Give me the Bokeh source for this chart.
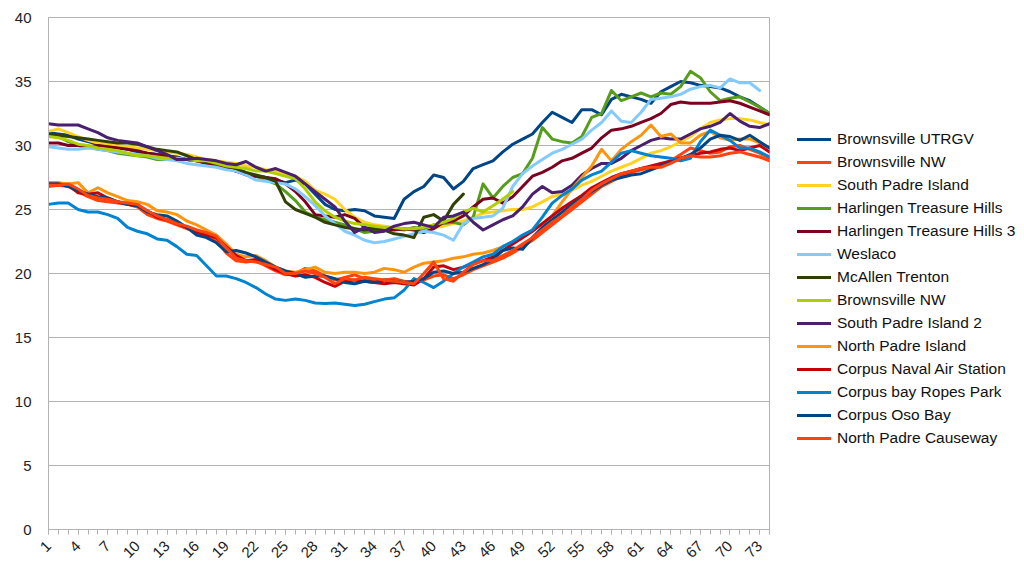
import math
import numpy as np
from bokeh.plotting import figure
from bokeh.models import Range1d, FixedTicker, Legend, LegendItem
from bokeh.embed import file_html
from bokeh.resources import INLINE

days = list(range(1, 75))
x_ticks = list(range(1, 74, 3))
y_ticks = [0, 5, 10, 15, 20, 25, 30, 35, 40]

names = ["Brownsville UTRGV", "Brownsville NW", "South Padre Island", "Harlingen Treasure Hills",
         "Harlingen Treasure Hills 3", "Weslaco", "McAllen Trenton", "Brownsville NW",
         "South Padre Island 2", "North Padre Island", "Corpus Naval Air Station",
         "Corpus bay Ropes Park", "Corpus Oso Bay", "North Padre Causeway"]

brownsville_utrgv = [31.0, 30.9, 30.8, 30.5, 30.3, 30.1, 30.0, 29.9, 29.7, 29.5, 29.4, 29.3, 29.2, 29.1, 28.9,
                     28.8, 28.6, 28.5, 28.3, 28.0, 27.8, 27.6, 27.5, 27.3, 27.1, 27.3, 27.0, 26.2, 25.4, 25.0,
                     24.9, 25.0, 24.9, 24.5, 24.4, 24.3, 25.8, 26.4, 26.8, 27.7, 27.5, 26.6, 27.2, 28.2, 28.5,
                     28.8, 29.5, 30.1, 30.5, 30.9, 31.8, 32.6, 32.2, 31.8, 32.8, 32.8, 32.4, 33.6, 34.0, 33.8,
                     33.6, 33.3, 34.2, 34.6, 35.0, 34.9, 34.7, 34.6, 34.5, 34.2, 33.8, 33.5, 33.0, 32.5]
brownsville_nw = [26.8, 26.9, 26.8, 26.4, 26.0, 25.7, 25.6, 25.5, 25.4, 25.2, 24.6, 24.3, 24.1, 23.8, 23.5,
                  23.3, 23.0, 22.6, 21.6, 21.0, 20.9, 21.0, 20.6, 20.2, 19.9, 20.0, 20.4, 20.2, 19.8, 19.5,
                  19.7, 19.9, 19.6, 19.4, 19.5, 19.6, 19.4, 19.3, 19.5, 19.8, 19.9, 19.6, 19.9, 20.3, 20.6,
                  20.9, 21.2, 21.6, 22.1, 22.6, 23.2, 23.8, 24.4, 25.0, 25.6, 26.2, 26.8, 27.2, 27.6, 27.9,
                  28.1, 28.3, 28.5, 28.8, 29.3, 29.8, 29.6, 29.4, 29.5, 29.9, 30.0, 29.7, 29.4, 29.0]
south_padre = [31.1, 31.3, 31.0, 30.7, 30.4, 30.2, 30.1, 30.0, 29.9, 29.8, 29.7, 29.6, 29.5, 29.4, 29.3,
               29.1, 28.9, 28.8, 28.7, 28.6, 28.4, 28.3, 28.1, 28.0, 27.8, 27.6, 27.2, 26.5, 26.2, 25.8,
               25.0, 24.4, 24.0, 23.8, 23.7, 23.6, 23.5, 23.4, 23.5, 23.6, 23.7, 23.9, 24.1, 24.4, 24.7,
               24.8, 24.9, 25.0, 25.0, 25.2, 25.6, 26.0, 26.2, 26.5, 26.9, 27.2, 27.6, 28.0, 28.3, 28.6,
               29.0, 29.4, 29.6, 29.9, 30.3, 30.7, 31.3, 31.8, 32.0, 32.1, 32.1, 32.0, 31.8, 31.6]
harlingen = [30.8, 30.7, 30.3, 30.0, 29.9, 29.7, 29.6, 29.4, 29.3, 29.2, 29.1, 28.9, 28.9, 29.0, 28.9,
             28.8, 28.7, 28.6, 28.3, 28.0, 27.8, 27.6, 27.3, 27.0, 26.4, 25.7, 24.8, 24.4, 24.2, 24.0,
             23.8, 23.5, 23.2, 23.3, 23.4, 23.5, 23.4, 23.6, 23.5, 23.8, 23.9, 24.0, 23.8, 24.4, 27.0,
             25.9, 26.8, 27.5, 27.8, 29.0, 31.4, 30.5, 30.3, 30.2, 30.7, 32.2, 32.5, 34.3, 33.5, 33.8,
             34.1, 33.8, 34.1, 34.0, 34.6, 35.8, 35.3, 34.2, 33.5, 33.7, 33.8, 33.4, 33.0, 32.5]
harlingen_3 = [30.2, 30.2, 30.0, 30.0, 29.9, 30.0, 29.9, 29.8, 29.7, 29.6, 29.4, 29.3, 29.2, 29.0, 28.9,
               28.8, 28.6, 28.4, 28.2, 28.0, 27.7, 27.6, 27.5, 27.4, 27.0, 26.4, 25.6, 24.6, 24.5, 24.4,
               24.6, 24.3, 23.6, 23.5, 23.5, 23.4, 23.5, 23.4, 23.2, 23.5, 24.0, 24.1, 24.5, 25.2, 25.8,
               25.9, 25.5, 26.0, 26.8, 27.6, 27.9, 28.3, 28.8, 29.0, 29.4, 29.8, 30.6, 31.2, 31.3, 31.5,
               31.8, 32.1, 32.5, 33.2, 33.4, 33.3, 33.3, 33.3, 33.4, 33.5, 33.3, 33.0, 32.7, 32.4]
weslaco = [29.9, 29.8, 29.7, 29.7, 29.8, 29.7, 29.6, 29.5, 29.4, 29.3, 29.2, 29.0, 28.9, 28.8, 28.6,
           28.5, 28.4, 28.3, 28.1, 28.0, 27.7, 27.3, 27.2, 27.1, 27.0, 26.6, 26.0, 25.3, 24.5, 23.9,
           23.3, 23.0, 22.6, 22.4, 22.5, 22.7, 22.9, 23.1, 23.3, 23.2, 23.0, 22.6, 23.9, 24.3, 24.4,
           24.5, 25.1, 26.8, 27.8, 28.4, 28.9, 29.4, 29.7, 30.1, 30.5, 31.2, 31.8, 32.7, 31.9, 31.8,
           32.6, 33.6, 33.7, 33.8, 34.0, 34.4, 34.6, 34.7, 34.5, 35.2, 34.9, 34.9, 34.3]
mcallen = [30.9, 30.8, 30.7, 30.6, 30.5, 30.4, 30.3, 30.2, 30.2, 30.1, 29.9, 29.7, 29.6, 29.5, 29.2,
           28.9, 28.7, 28.6, 28.4, 28.2, 27.9, 27.7, 27.5, 27.2, 25.6, 25.0, 24.7, 24.4, 24.0, 23.8,
           23.6, 23.5, 23.4, 23.5, 23.4, 23.1, 23.0, 22.8, 24.4, 24.6, 24.1, 25.4, 26.2]
brownsville_nw_2 = [30.7, 30.6, 30.4, 30.1, 30.0, 29.8, 29.7, 29.6, 29.4, 29.2, 29.2, 29.1, 29.0, 29.0, 28.9,
                    28.8, 28.8, 28.6, 28.4, 28.3, 28.2, 28.0, 28.0, 27.8, 27.6, 27.4, 26.6, 25.6, 24.9, 24.4,
                    24.1, 23.9, 23.8, 23.7, 23.6, 23.6, 23.5, 23.5, 23.6, 23.8, 24.0, 24.3, 24.8, 25.1, 24.8,
                    25.3, 25.8, 26.4]
south_padre_2 = [31.7, 31.6, 31.6, 31.6, 31.3, 31.0, 30.6, 30.4, 30.3, 30.2, 29.9, 29.6, 29.3, 28.9, 28.9,
                 29.0, 28.9, 28.8, 28.6, 28.5, 28.75, 28.3, 28.0, 28.2, 27.9, 27.6, 27.0, 26.4, 25.8, 25.2,
                 24.1, 23.2, 23.6, 23.2, 23.3, 23.7, 23.9, 24.0, 23.8, 23.6, 24.4, 24.5, 24.8, 24.0, 23.4,
                 23.8, 24.2, 24.5, 25.2, 26.2, 26.8, 26.3, 26.4, 26.9, 27.7, 28.2, 28.6, 28.6, 29.0, 29.6,
                 30.0, 30.4, 30.6, 30.5, 30.5, 30.9, 31.3, 31.5, 31.8, 32.5, 31.9, 31.5, 31.4, 31.7]
north_padre = [27.1, 27.1, 27.0, 27.1, 26.3, 26.7, 26.3, 26.0, 25.7, 25.6, 25.4, 24.9, 24.8, 24.6, 24.1,
               23.8, 23.4, 23.0, 22.3, 21.5, 21.3, 21.4, 21.0, 20.5, 20.2, 20.1, 20.3, 20.5, 20.1, 20.0,
               20.1, 20.1, 20.0, 20.1, 20.4, 20.3, 20.1, 20.5, 20.8, 20.9, 21.0, 21.2, 21.3, 21.5, 21.6,
               21.8, 22.1, 22.5, 22.9, 23.4, 23.9, 24.5, 25.6, 26.6, 27.5, 28.4, 29.7, 28.8, 29.7, 30.3,
               30.8, 31.6, 30.7, 30.9, 30.2, 30.2, 30.8, 31.1, 30.6, 30.4, 30.5, 30.5, 30.2, 29.8]
corpus_nas = [27.0, 27.0, 26.9, 26.3, 26.2, 26.3, 25.9, 25.6, 25.4, 25.3, 24.9, 24.4, 24.2, 23.9, 23.6,
              23.2, 23.0, 22.8, 22.1, 21.4, 21.0, 21.1, 20.7, 20.3, 20.0, 19.8, 19.9, 19.7, 19.3, 19.0,
              19.4, 19.5, 19.4, 19.3, 19.2, 19.3, 19.2, 19.1, 19.6, 20.5, 20.6, 20.3, 20.5, 20.8, 21.0,
              21.3, 21.8, 22.3, 22.8, 23.3, 23.9, 24.5, 25.1, 25.6, 26.1, 26.7, 27.1, 27.5, 27.8, 28.0,
              28.2, 28.4, 28.6, 28.8, 29.0, 29.2, 29.4, 29.5, 29.7, 29.8, 29.6, 29.8, 30.0, 29.5]
ropes_park = [25.4, 25.5, 25.5, 25.0, 24.8, 24.8, 24.6, 24.3, 23.6, 23.3, 23.1, 22.7, 22.6, 22.1, 21.5,
              21.4, 20.6, 19.8, 19.8, 19.6, 19.3, 18.9, 18.4, 18.0, 17.9, 18.0, 17.9, 17.7, 17.65, 17.7,
              17.6, 17.5, 17.6, 17.8, 18.0, 18.1, 18.7, 19.6, 19.3, 18.9, 19.4, 20.0, 20.5, 20.9, 21.3,
              21.5, 22.1, 22.5, 23.0, 23.4, 24.4, 25.5, 26.1, 26.6, 27.3, 27.7, 28.0, 28.7, 29.4, 29.6,
              29.4, 29.2, 29.1, 29.0, 28.8, 29.0, 30.3, 31.2, 30.8, 30.4, 29.8, 29.8, 29.5, 29.1]
oso_bay = [27.0, 27.0, 26.8, 26.5, 26.2, 26.0, 25.9, 25.6, 25.4, 25.3, 24.8, 24.6, 24.5, 24.1, 23.6,
           23.0, 22.8, 22.4, 21.7, 21.8, 21.6, 21.3, 20.9, 20.5, 20.2, 20.0, 19.7, 19.8, 19.8, 19.6,
           19.3, 19.2, 19.4, 19.3, 19.5, 19.4, 19.3, 19.4, 19.6, 20.1, 20.2, 20.0, 20.1, 20.4, 20.7,
           21.1, 21.8, 22.0, 21.9, 22.8, 23.6, 24.2, 24.8, 25.4, 25.9, 26.4, 26.9, 27.3, 27.5, 27.7,
           27.8, 28.1, 28.4, 28.7, 29.0, 29.3, 29.8, 30.5, 30.8, 30.7, 30.4, 30.8, 30.3, 29.8]
causeway = [26.9, 26.9, 27.0, 26.6, 26.1, 25.9, 25.8, 25.6, 25.5, 25.4, 24.9, 24.5, 24.2, 23.9, 23.7,
            23.4, 23.2, 22.9, 22.0, 21.2, 21.0, 20.9, 20.7, 20.5, 20.0, 20.0, 20.2, 20.0, 19.7, 19.2,
            19.6, 19.5, 19.7, 19.6, 19.5, 19.4, 19.3, 19.2, 20.0, 20.9, 19.6, 19.4, 20.1, 20.7, 21.0,
            21.0, 21.4, 21.8, 22.3, 22.8, 23.4, 24.0, 24.5, 25.2, 25.8, 26.5, 27.0, 27.4, 27.8, 28.0,
            28.2, 28.3, 28.3, 28.6, 29.0, 29.2, 29.1, 29.1, 29.2, 29.4, 29.5, 29.3, 29.1, 28.8]

series = [brownsville_utrgv, brownsville_nw, south_padre, harlingen, harlingen_3, weslaco, mcallen,
          brownsville_nw_2, south_padre_2, north_padre, corpus_nas, ropes_park, oso_bay, causeway]
colors = ["#004586", "#ff420e", "#ffd320", "#579d1c", "#7e0021", "#83caff", "#314004",
          "#aecf00", "#4b1f6f", "#ff950e", "#c5000b", "#0084d1", "#004586", "#ff420e"]

FONT = "Liberation Sans"
GRID = "#b3b3b3"

p = figure(frame_width=721, frame_height=512, min_border_left=48, min_border_right=253,
           min_border_top=17, min_border_bottom=50, output_backend="svg", toolbar_location=None,
           x_range=Range1d(1, 74), y_range=Range1d(0, 40))
p.background_fill_color = "white"
p.border_fill_color = "white"
p.outline_line_color = GRID

p.xgrid.visible = False
p.ygrid.grid_line_color = GRID
p.ygrid.ticker = FixedTicker(ticks=y_ticks)

p.yaxis.ticker = FixedTicker(ticks=y_ticks)
p.yaxis.axis_line_color = GRID
p.yaxis.major_tick_line_color = None
p.yaxis.minor_tick_line_color = None
p.yaxis.major_label_standoff = 11
p.yaxis.major_label_text_font = FONT
p.yaxis.major_label_text_font_size = "15px"
p.yaxis.major_label_text_color = "#222222"

p.xaxis.ticker = FixedTicker(ticks=x_ticks, minor_ticks=days)
p.xaxis.axis_line_color = GRID
p.xaxis.major_tick_line_color = GRID
p.xaxis.minor_tick_line_color = GRID
p.xaxis.major_tick_out = 5
p.xaxis.major_tick_in = 0
p.xaxis.minor_tick_out = 5
p.xaxis.minor_tick_in = 0
p.xaxis.major_label_orientation = math.pi / 4
p.xaxis.major_label_standoff = 9
p.xaxis.major_label_text_font = FONT
p.xaxis.major_label_text_font_size = "15px"
p.xaxis.major_label_text_color = "#222222"

items = []
for name, vals, col in zip(names, series, colors):
    y = np.full(len(days), np.nan)
    y[:len(vals)] = vals
    r = p.line(days, y, line_color=col, line_width=3, line_join="round", line_cap="round")
    items.append(LegendItem(label=name, renderers=[r]))

legend = Legend(items=items, location=(28, 81), orientation="vertical",
                glyph_width=34, glyph_height=20, label_height=20, spacing=3,
                padding=0, margin=0, label_standoff=6,
                border_line_alpha=0, background_fill_alpha=0,
                label_text_font=FONT, label_text_font_size="15.5px", label_text_color="#111111")
p.add_layout(legend, "right")

open("out.html", "w").write(file_html(p, INLINE))
